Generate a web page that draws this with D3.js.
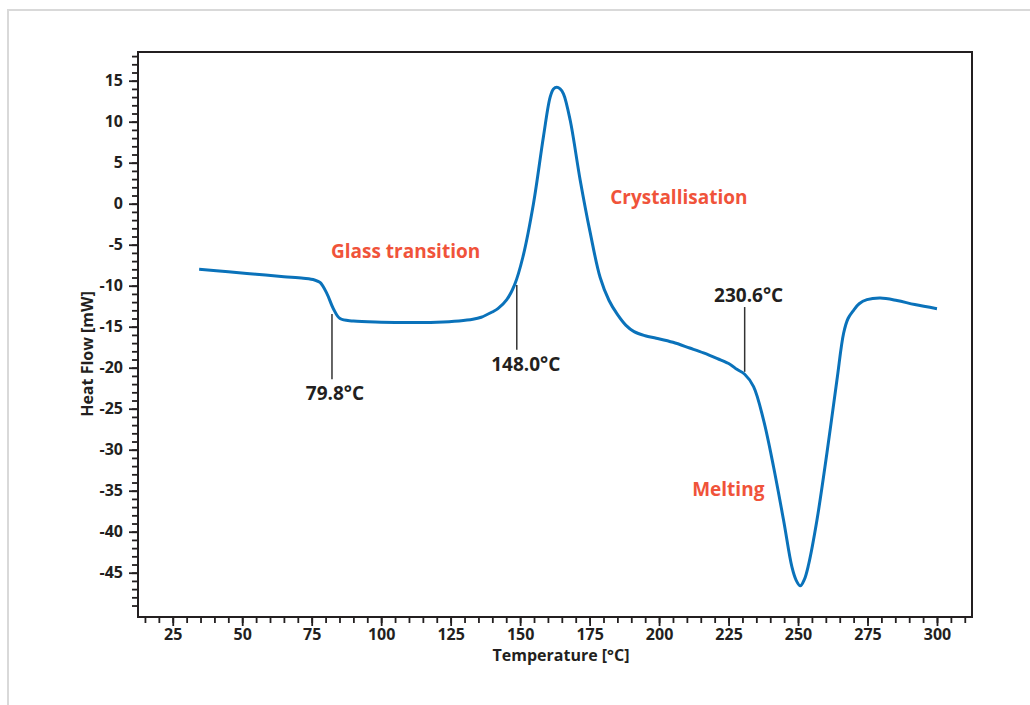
<!DOCTYPE html>
<html>
<head>
<meta charset="utf-8">
<script src="https://cdn.jsdelivr.net/npm/d3@7"></script>
<style>
  body { margin: 0; background: #fff; }
  svg text { font-family: "Open Sans", "DejaVu Sans", sans-serif; font-weight: 700; }
</style>
</head>
<body>
<svg id="chart" width="1030" height="705"></svg>
<script>
// DSC curve: temperature [°C] and heat flow [mW]
var temps = [34.5, 45, 55, 65, 72, 76, 78, 80.4, 82.8, 85.2, 90, 100, 110, 120, 128, 133, 136, 140, 142, 145.2,
  148, 151, 154.8, 158.4, 160.8, 162, 163.2, 164.4, 165.6, 168, 171.6, 175.2, 178.8, 182, 185, 188, 191, 195, 199,
  205, 211, 216, 221, 225.6, 228, 230.8, 234, 237.6, 241.2, 244.8, 247.8, 249.3, 250.8, 252.3, 253.8, 256.8, 260.4,
  264, 266.4, 268, 270, 272, 274.8, 279.6, 285.6, 292, 300];
var heatFlow = [-8.0, -8.3, -8.6, -8.9, -9.1, -9.3, -9.6, -10.9, -12.8, -14.0, -14.3, -14.45, -14.5, -14.45, -14.3, -14.1, -13.85, -13.2, -12.8, -11.7,
  -9.9, -6.5, 0, 8.2, 13.0, 14.0, 14.2, 14.0, 13.4, 10.2, 2.9, -3.5, -9.0, -11.8, -13.5, -14.8, -15.6, -16.1, -16.4,
  -16.9, -17.6, -18.2, -18.9, -19.6, -20.2, -20.8, -22.3, -26.4, -32.1, -38.6, -44.3, -45.9, -46.6, -45.8, -44.0, -38.6, -30.4,
  -21.5, -15.8, -14.0, -13.0, -12.2, -11.7, -11.5, -11.8, -12.3, -12.8];

// tick labels
var xTicks = [25, 50, 75, 100, 125, 150, 175, 200, 225, 250, 275, 300];
var yTicks = [15, 10, 5, 0, -5, -10, -15, -20, -25, -30, -35, -40, -45];

// marker lines: temperature where drawn, top and bottom heat flow, label
var markerTemps = [82.3, 148.8, 230.8];
var markerTop = [-13.45, -9.9, -12.6];
var markerBottom = [-21.4, -17.8, -20.5];
var markerLabels = ["79.8°C", "148.0°C", "230.6°C"];

// event names
var eventNames = ["Glass transition", "Crystallisation", "Melting"];
var eventTemps = [108.8, 182.4, 224.9];
var eventFlows = [-6.66, -0.07, -35.6];

var svg = d3.select("#chart");
var ink = "#231f20";

// light page frame
svg.append("path")
  .attr("d", "M8,705V10H1030")
  .attr("fill", "none")
  .attr("stroke", "#d9d9d9")
  .attr("stroke-width", 2);

var plotLeft = 138, plotRight = 972, plotTop = 52, plotBottom = 617;

var x = d3.scaleLinear().domain([12.5, 312.6]).range([plotLeft, plotRight]);
var y = d3.scaleLinear().domain([18.5, -50.4]).range([plotTop, plotBottom]);

// minor ticks
svg.append("g")
  .attr("transform", "translate(" + plotLeft + ",0)")
  .call(d3.axisLeft(y).tickValues(d3.range(-49, 19)).tickSize(6).tickFormat(""))
  .call(function(g) { g.select(".domain").remove(); });
svg.append("g")
  .attr("transform", "translate(0," + plotBottom + ")")
  .call(d3.axisBottom(x).tickValues(d3.range(15, 311, 5)).tickSize(6).tickFormat(""))
  .call(function(g) { g.select(".domain").remove(); });

// major ticks with labels (plain hyphen for negatives, like the original)
var yAxis = svg.append("g")
  .attr("transform", "translate(" + plotLeft + ",0)")
  .call(d3.axisLeft(y).tickValues(yTicks).tickSize(9).tickPadding(6)
    .tickFormat(function(d) { return String(d); }));
yAxis.select(".domain").remove();

var xAxis = svg.append("g")
  .attr("transform", "translate(0," + plotBottom + ")")
  .call(d3.axisBottom(x).tickValues(xTicks).tickSize(9).tickPadding(3)
    .tickFormat(function(d) { return String(d); }));
xAxis.select(".domain").remove();

svg.selectAll(".tick line").attr("stroke", ink).attr("stroke-width", 1.8);
svg.selectAll(".tick text")
  .attr("fill", ink)
  .style("font-size", "16px")
  .style("font-family", "'Open Sans', sans-serif")
  .style("font-weight", 700);

// plot frame
svg.append("rect")
  .attr("x", plotLeft).attr("y", plotTop)
  .attr("width", plotRight - plotLeft).attr("height", plotBottom - plotTop)
  .attr("fill", "none")
  .attr("stroke", ink)
  .attr("stroke-width", 2);

// axis titles
svg.append("text")
  .attr("transform", "translate(93,354) rotate(-90)")
  .attr("text-anchor", "middle")
  .attr("fill", ink)
  .style("font-size", "16px")
  .text("Heat Flow [mW]");

svg.append("text")
  .attr("x", 561).attr("y", 661)
  .attr("text-anchor", "middle")
  .attr("fill", ink)
  .style("font-size", "16px")
  .text("Temperature [°C]");

// curve
var points = temps.map(function(t, i) { return [t, heatFlow[i]]; });
var line = d3.line()
  .x(function(d) { return x(d[0]); })
  .y(function(d) { return y(d[1]); })
  .curve(d3.curveCatmullRom.alpha(0.5));

svg.append("path")
  .datum(points)
  .attr("d", line)
  .attr("fill", "none")
  .attr("stroke", "#0a72ba")
  .attr("stroke-width", 3)
  .attr("stroke-linejoin", "round");

// marker lines and labels
markerTemps.forEach(function(t, i) {
  svg.append("line")
    .attr("x1", x(t)).attr("x2", x(t))
    .attr("y1", y(markerTop[i])).attr("y2", y(markerBottom[i]))
    .attr("stroke", "#333")
    .attr("stroke-width", 1.5);
  // first two labels sit below the line, the last one above
  var below = i < 2;
  svg.append("text")
    .attr("x", x(t) + (i == 0 ? 3 : (i == 1 ? 9 : 4)))
    .attr("y", below ? y(markerBottom[i]) + 21 : y(markerTop[i]) - 5)
    .attr("text-anchor", "middle")
    .attr("fill", ink)
    .style("font-size", "19px")
    .text(markerLabels[i]);
});

// event names
eventNames.forEach(function(name, i) {
  svg.append("text")
    .attr("x", x(eventTemps[i]))
    .attr("y", y(eventFlows[i]))
    .attr("text-anchor", i == 1 ? "start" : "middle")
    .attr("fill", "#f0533a")
    .style("font-size", "19px")
    .text(name);
});
</script>
</body>
</html>
